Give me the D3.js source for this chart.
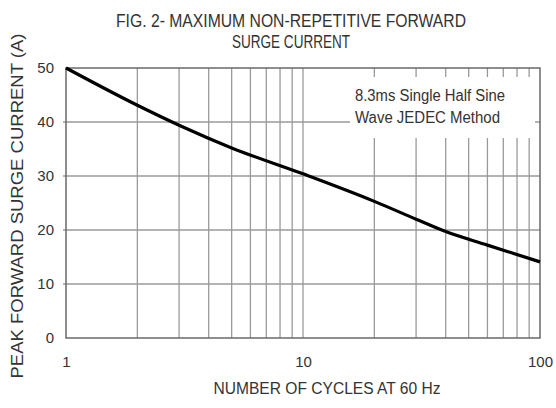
<!DOCTYPE html>
<html>
<head>
<meta charset="utf-8">
<script src="https://cdn.jsdelivr.net/npm/d3@7"></script>
<style>
  body { margin: 0; background: #fff; }
  text { font-family: "Liberation Sans", Arial, sans-serif; fill: #333; }
</style>
</head>
<body>
<div class="svg-container"></div>
<script>
// curve
const cycles = [1, 2, 3, 5, 10, 20, 30, 40, 60, 100]
const current = [50, 43.1, 39.4, 35.2, 30.4, 25.3, 22, 19.7, 17.2, 14.1]
const xTicks = [1, 10, 100]
const yTicks = [0, 10, 20, 30, 40, 50]
const gridX = [2, 3, 4, 5, 6, 7, 8, 9, 10, 20, 30, 40, 50, 60, 70, 80, 90]
const gridY = [10, 20, 30, 40]

const data = cycles.map((c, i) => ({ c: c, v: current[i] }))

const margin = { top: 68, right: 16, bottom: 70, left: 66 }
const width = 556, height = 408
const graphWidth = width - margin.left - margin.right
const graphHeight = height - margin.top - margin.bottom

const svg = d3.select('.svg-container').append('svg')
    .attr('width', width)
    .attr('height', height)

const x = d3.scaleLog().domain([1, 100]).range([0, graphWidth])
const y = d3.scaleLinear().domain([0, 50]).range([graphHeight, 0])

const graph = svg.append('g')
    .attr('transform', `translate(${margin.left},${margin.top})`)

// grid
graph.selectAll('.vgrid')
    .data(gridX)
    .enter().append('line')
    .attr('x1', d => x(d)).attr('x2', d => x(d))
    .attr('y1', 0).attr('y2', graphHeight)
    .style('stroke', '#9a9a9a').style('stroke-width', 1.3)

graph.selectAll('.hgrid')
    .data(gridY)
    .enter().append('line')
    .attr('x1', -3).attr('x2', graphWidth)
    .attr('y1', d => y(d)).attr('y2', d => y(d))
    .style('stroke', '#9a9a9a').style('stroke-width', 1.3)

// white box behind note
graph.append('rect')
    .attr('x', 284).attr('y', 9)
    .attr('width', 185).attr('height', 61)
    .style('fill', '#fff')

graph.append('rect')
    .attr('x', 0).attr('y', 0)
    .attr('width', graphWidth).attr('height', graphHeight)
    .style('fill', 'none').style('stroke', '#6a6a6a').style('stroke-width', 1.5)

// axes
const axeX = d3.axisBottom(x).tickValues(xTicks).tickFormat(d3.format('d')).tickSize(0).tickPadding(18)
const axeY = d3.axisLeft(y).tickValues(yTicks).tickSize(0).tickPadding(12)

const groupX = graph.append('g').attr('transform', `translate(0,${graphHeight})`).call(axeX)
const groupY = graph.append('g').call(axeY)
groupX.select('.domain').remove()
groupY.select('.domain').remove()
groupX.selectAll('text').style('font-size', '15px').style('fill', '#333')
    .attr('font-family', '"Liberation Sans", Arial, sans-serif')
groupY.selectAll('text').style('font-size', '15px').style('fill', '#333')
    .attr('font-family', '"Liberation Sans", Arial, sans-serif')

// curve
const line = d3.line()
    .x(d => x(d.c))
    .y(d => y(d.v))
    .curve(d3.curveMonotoneX)

graph.append('path')
    .datum(data)
    .attr('d', line)
    .style('fill', 'none')
    .style('stroke', '#000')
    .style('stroke-width', 3.2)

// note
graph.append('text')
    .attr('x', 289).attr('y', 33)
    .attr('textLength', 150).attr('lengthAdjust', 'spacingAndGlyphs')
    .style('font-size', '16px')
    .text('8.3ms Single Half Sine')
graph.append('text')
    .attr('x', 289).attr('y', 55)
    .attr('textLength', 145).attr('lengthAdjust', 'spacingAndGlyphs')
    .style('font-size', '16px')
    .text('Wave JEDEC Method')

// titles
svg.append('text')
    .attr('x', 291).attr('y', 27)
    .attr('text-anchor', 'middle')
    .attr('textLength', 350).attr('lengthAdjust', 'spacingAndGlyphs')
    .style('font-size', '18.5px')
    .text('FIG. 2- MAXIMUM  NON-REPETITIVE FORWARD')
svg.append('text')
    .attr('x', 291).attr('y', 48)
    .attr('text-anchor', 'middle')
    .attr('textLength', 118).attr('lengthAdjust', 'spacingAndGlyphs')
    .style('font-size', '18.5px')
    .text('SURGE CURRENT')

svg.append('text')
    .attr('x', 327).attr('y', 394)
    .attr('text-anchor', 'middle')
    .attr('textLength', 227).attr('lengthAdjust', 'spacingAndGlyphs')
    .style('font-size', '16px')
    .text('NUMBER OF CYCLES AT 60 Hz')

svg.append('text')
    .attr('transform', 'translate(23,206) rotate(-90)')
    .attr('text-anchor', 'middle')
    .attr('textLength', 345).attr('lengthAdjust', 'spacingAndGlyphs')
    .style('font-size', '17px')
    .text('PEAK FORWARD SURGE CURRENT (A)')
</script>
</body>
</html>
